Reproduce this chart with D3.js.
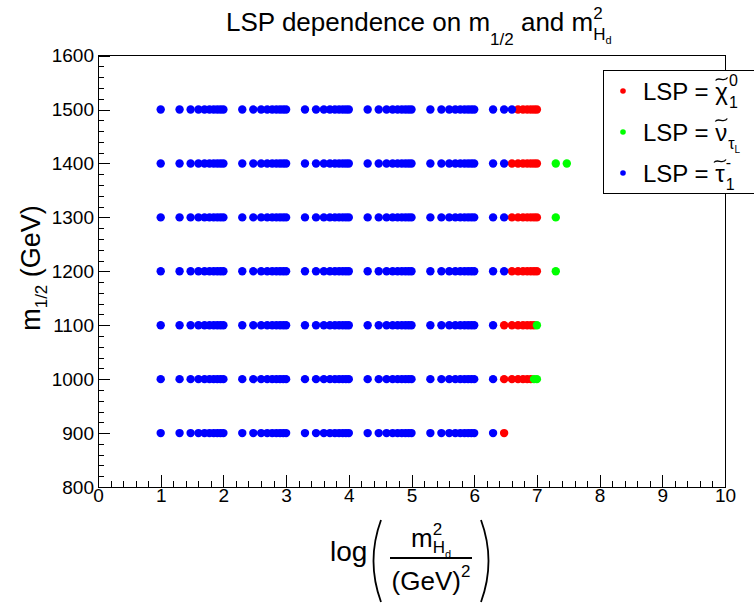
<!DOCTYPE html>
<html>
<head>
<meta charset="utf-8">
<script src="https://cdn.jsdelivr.net/npm/d3@7"></script>
<style>
body { margin: 0; background: #fff; }
svg { display: block; font-family: "Liberation Sans", Arial, sans-serif; }
text { white-space: pre; }
</style>
</head>
<body>
<svg id="chart" width="754" height="607"></svg>
<script>
// m_Hd^2 values (GeV^2) scanned, one column per value
const mHd2Grid = [
    10, 20, 30, 40, 50, 60, 70, 80, 90,
    100, 200, 300, 400, 500, 600, 700, 800, 900,
    1e3, 2e3, 3e3, 4e3, 5e3, 6e3, 7e3, 8e3, 9e3,
    1e4, 2e4, 3e4, 4e4, 5e4, 6e4, 7e4, 8e4, 9e4,
    1e5, 2e5, 3e5, 4e5, 5e5, 6e5, 7e5, 8e5, 9e5,
    1e6, 2e6, 3e6, 4e6, 5e6, 6e6, 7e6, 8e6, 9e6,
    1e7, 2e7, 3e7
];
const m12Values = [1500, 1400, 1300, 1200, 1100, 1000, 900];
// LSP per grid column: r = neutralino, g = sneutrino, b = stau, . = no point
const lspRows = [
    'bbbbbbbbb|bbbbbbbbb|bbbbbbbbb|bbbbbbbbb|bbbbbbbbb|bbbbrrrrr|r..',
    'bbbbbbbbb|bbbbbbbbb|bbbbbbbbb|bbbbbbbbb|bbbbbbbbb|bbbrrrrrr|rgg',
    'bbbbbbbbb|bbbbbbbbb|bbbbbbbbb|bbbbbbbbb|bbbbbbbbb|bbbrrrrrr|rg.',
    'bbbbbbbbb|bbbbbbbbb|bbbbbbbbb|bbbbbbbbb|bbbbbbbbb|bbbrrrrrr|rg.',
    'bbbbbbbbb|bbbbbbbbb|bbbbbbbbb|bbbbbbbbb|bbbbbbbbb|bbrrrrrrr|g..',
    'bbbbbbbbb|bbbbbbbbb|bbbbbbbbb|bbbbbbbbb|bbbbbbbbb|bbrrrrrrg|g..',
    'bbbbbbbbb|bbbbbbbbb|bbbbbbbbb|bbbbbbbbb|bbbbbbbbb|bbr......|...'
];
const lspCodes  = ['r', 'g', 'b'];
const lspColors = ['#ff0000', '#00ff00', '#0000ff'];
const xTickLabels = [0, 1, 2, 3, 4, 5, 6, 7, 8, 9, 10];
const yTickLabels = [800, 900, 1000, 1100, 1200, 1300, 1400, 1500, 1600];

const svg = d3.select('#chart');
const frame = { left: 98, right: 725, top: 55.6, bottom: 487 };

const x = d3.scaleLinear().domain([0, 10]).range([frame.left, frame.right]);
const y = d3.scaleLinear().domain([800, 1600]).range([frame.bottom, frame.top]);
const color = d3.scaleOrdinal().domain(lspCodes).range(lspColors);

const points = [];
lspRows.forEach((row, i) => {
    row.replace(/\|/g, '').split('').forEach((c, j) => {
        if (c !== '.') points.push({ lx: Math.log10(mHd2Grid[j]), m12: m12Values[i], lsp: c });
    });
});

// text with sub/superscripts, parts laid out left to right
function richText(parent, x0, y0, parts) {
    const g = parent.append('g');
    let cx = x0, lastX = x0;
    parts.forEach(p => {
        const px = p.stack ? lastX : cx;
        const t = g.append('text')
            .attr('x', px)
            .attr('y', y0 + (p.dy || 0))
            .attr('font-size', p.s)
            .text(p.t);
        const w = t.node().getComputedTextLength();
        if (!p.stack) lastX = px;
        cx = Math.max(cx, px + w);
    });
    g.width = cx - x0;
    return g;
}

// frame
svg.append('rect')
    .attr('x', frame.left).attr('y', frame.top)
    .attr('width', frame.right - frame.left).attr('height', frame.bottom - frame.top)
    .attr('fill', 'none').attr('stroke', '#000').attr('stroke-width', 1)
    .attr('shape-rendering', 'crispEdges');

// points, red then green then blue on top
lspCodes.forEach(code => {
    svg.append('g').selectAll('circle')
        .data(points.filter(d => d.lsp === code))
        .join('circle')
        .attr('cx', d => x(d.lx))
        .attr('cy', d => y(d.m12))
        .attr('r', 4.2)
        .attr('fill', color(code));
});

// axes: ticks point into the frame like ROOT
function styleAxis(g) {
    g.select('.domain').remove();
    g.selectAll('line').attr('stroke', '#000').attr('shape-rendering', 'crispEdges');
    g.selectAll('text').attr('font-size', 19).attr('fill', '#000')
        .attr('font-family', '"Liberation Sans", Arial, sans-serif');
}
svg.append('g')
    .attr('transform', `translate(0,${frame.bottom})`)
    .call(d3.axisBottom(x).tickValues(d3.range(0, 10.01, 0.2)).tickSize(-6).tickFormat(''))
    .call(styleAxis);
svg.append('g')
    .attr('transform', `translate(0,${frame.bottom})`)
    .call(d3.axisBottom(x).tickValues(xTickLabels).tickSize(-12).tickPadding(1).tickFormat(d3.format('d')))
    .call(styleAxis);
svg.append('g')
    .attr('transform', `translate(${frame.left},0)`)
    .call(d3.axisLeft(y).tickValues(d3.range(800, 1601, 20)).tickSize(-6).tickFormat(''))
    .call(styleAxis);
svg.append('g')
    .attr('transform', `translate(${frame.left},0)`)
    .call(d3.axisLeft(y).tickValues(yTickLabels).tickSize(-12).tickPadding(4).tickFormat(d3.format('d')))
    .call(styleAxis);

// title
richText(svg, 226, 31, [
    { t: 'LSP dependence on m', s: 26 },
    { t: '1/2', s: 17, dy: 14 },
    { t: ' and m', s: 26 },
    { t: '2', s: 17, dy: -12 },
    { t: 'H', s: 17, dy: 9, stack: true },
    { t: 'd', s: 11, dy: 13 }
]);

// y axis title
const yt = svg.append('g').attr('transform', 'translate(40,268) rotate(-90)');
const ytText = richText(yt, 0, 0, [
    { t: 'm', s: 27 },
    { t: '1/2', s: 17, dy: 7 },
    { t: ' (GeV)', s: 27 }
]);
ytText.attr('transform', `translate(${-ytText.width / 2},0)`);

// x axis title: log( m^2_Hd / (GeV)^2 )
const xt = svg.append('g');
richText(xt, 330, 561, [{ t: 'log', s: 28 }]);
xt.append('path')
    .attr('d', 'M381,520 Q366,561 381,602')
    .attr('fill', 'none').attr('stroke', '#000').attr('stroke-width', 1.8);
xt.append('path')
    .attr('d', 'M481,520 Q496,561 481,602')
    .attr('fill', 'none').attr('stroke', '#000').attr('stroke-width', 1.8);
const num = richText(xt, 0, 547, [
    { t: 'm', s: 26 },
    { t: '2', s: 17, dy: -12 },
    { t: 'H', s: 17, dy: 6, stack: true },
    { t: 'd', s: 11, dy: 11 }
]);
num.attr('transform', `translate(${431 - num.width / 2},0)`);
xt.append('line')
    .attr('x1', 390).attr('x2', 472).attr('y1', 558).attr('y2', 558)
    .attr('stroke', '#000').attr('stroke-width', 2);
const den = richText(xt, 0, 590, [
    { t: '(GeV)', s: 26 },
    { t: '2', s: 17, dy: -13 }
]);
den.attr('transform', `translate(${431 - den.width / 2},0)`);

// legend
const leg = svg.append('g');
leg.append('rect')
    .attr('x', 603).attr('y', 70).attr('width', 170).attr('height', 123)
    .attr('fill', '#fff').attr('stroke', '#000').attr('stroke-width', 1)
    .attr('shape-rendering', 'crispEdges');
const legendRows = [
    { code: 'r', sym: '\u03c7', sup: '0', sub: '1' },
    { code: 'g', sym: '\u03bd', sub: '\u03c4', subsub: 'L' },
    { code: 'b', sym: '\u03c4', sup: '-', sub: '1' }
];
legendRows.forEach((r, i) => {
    const cy = 91 + i * 41;
    leg.append('circle').attr('cx', 623).attr('cy', cy).attr('r', 2.8).attr('fill', color(r.code));
    const lab = richText(leg, 643, cy + 9, [{ t: 'LSP = ', s: 24 }]);
    const sx = 643 + lab.width;
    const sym = richText(leg, sx, cy + 9, [{ t: r.sym, s: 24 }]);
    // tilde accent over the particle symbol
    const tx = sx + sym.width / 2, ty = cy - 12;
    leg.append('path')
        .attr('d', `M${tx - 6},${ty + 1.5} C${tx - 3},${ty - 3} ${tx + 3},${ty + 4} ${tx + 6},${ty - 1.5}`)
        .attr('fill', 'none').attr('stroke', '#000').attr('stroke-width', 1.3);
    const ex = sx + sym.width + 1;
    if (r.sup) leg.append('text').attr('x', ex).attr('y', cy - 5).attr('font-size', 16).text(r.sup);
    if (r.sub) {
        const sb = richText(leg, ex, cy + 17, [{ t: r.sub, s: 16 }]);
        if (r.subsub) leg.append('text').attr('x', ex + sb.width).attr('y', cy + 21).attr('font-size', 10).text(r.subsub);
    }
});
</script>
</body>
</html>
